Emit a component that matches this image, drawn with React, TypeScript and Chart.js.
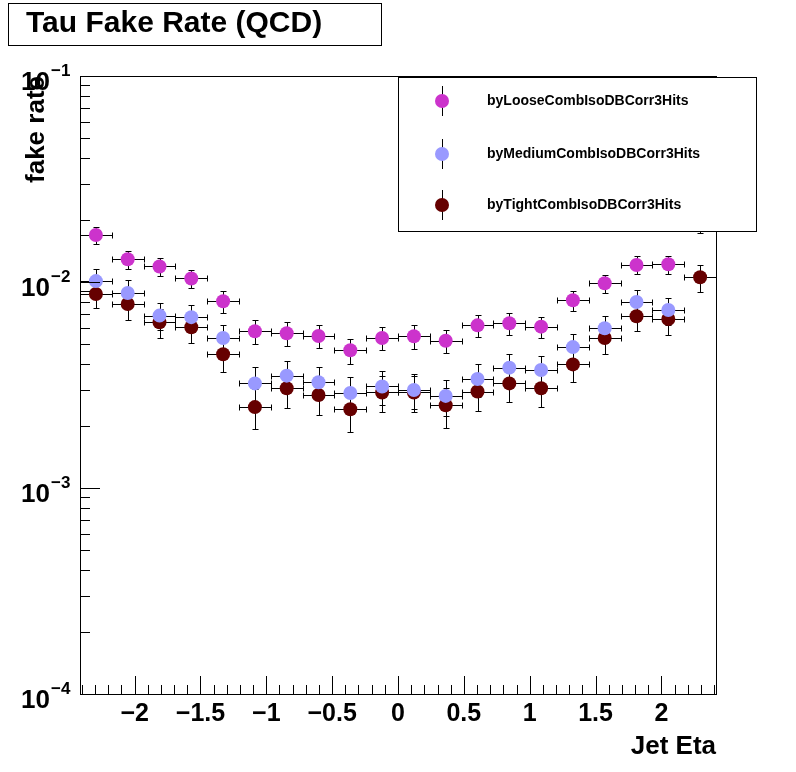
import { Chart, registerables } from "chart.js";
import { useEffect, useRef } from "react";

Chart.register(...registerables);

// eta bins: 20 bins of equal width
const binLow = -2.415;
const binWidth = 0.2415;
const binCenters = Array.from({ length: 20 }, (_, i) => binLow + binWidth * (i + 0.5));

const seriesNames = ["byLooseCombIsoDBCorr3Hits", "byMediumCombIsoDBCorr3Hits", "byTightCombIsoDBCorr3Hits"];
const seriesColors = ["#cc33cc", "#9999ff", "#660000"];

const looseRate = [0.0169, 0.0129, 0.0119, 0.0104, 0.00806, 0.00577, 0.00564, 0.00547, 0.00466, 0.00535, 0.00545, 0.00519, 0.00616, 0.00631, 0.00607, 0.00815, 0.00986, 0.0121, 0.0122, 0.022];
const mediumRate = [0.0101, 0.00885, 0.00687, 0.00675, 0.00535, 0.00322, 0.00351, 0.00326, 0.00289, 0.00311, 0.00299, 0.0028, 0.00338, 0.00384, 0.00374, 0.00483, 0.00596, 0.008, 0.00731, 0.02];
const tightRate = [0.00875, 0.00782, 0.00637, 0.00603, 0.00446, 0.00247, 0.00305, 0.00283, 0.00241, 0.00291, 0.00291, 0.00252, 0.00294, 0.00322, 0.00305, 0.00398, 0.00535, 0.00682, 0.00661, 0.01054];

// relative errors
const looseErr = [0.1, 0.1, 0.1, 0.1, 0.12, 0.13, 0.13, 0.13, 0.14, 0.13, 0.13, 0.13, 0.12, 0.12, 0.12, 0.11, 0.1, 0.1, 0.1, 0.1];
const mediumErr = [0.15, 0.15, 0.15, 0.15, 0.16, 0.2, 0.18, 0.18, 0.2, 0.19, 0.19, 0.2, 0.18, 0.17, 0.17, 0.16, 0.15, 0.14, 0.15, 0.14];
const tightErr = [0.15, 0.16, 0.16, 0.16, 0.18, 0.22, 0.2, 0.2, 0.22, 0.2, 0.2, 0.22, 0.2, 0.19, 0.19, 0.18, 0.16, 0.15, 0.16, 0.15];

const xTicks = [-2, -1.5, -1, -0.5, 0, 0.5, 1, 1.5, 2];
const yDecades = [-4, -3, -2, -1];

const FONT = '"Liberation Sans", Arial, sans-serif';

const rootPlugin = {
  id: "rootStyle",
  afterDatasetsDraw(chart: any) {
    const ctx = chart.ctx as CanvasRenderingContext2D;
    const xs = chart.scales.x;
    const ys = chart.scales.y;
    const { left, right, top, bottom } = chart.chartArea;
    ctx.save();
    ctx.strokeStyle = "#000";
    ctx.fillStyle = "#000";
    ctx.lineWidth = 1;

    // frame
    ctx.strokeRect(left + 0.5, top + 0.5, right - left, bottom - top);

    // x ticks
    for (let v = -2.4; v <= 2.41; v += 0.1) {
      const px = Math.round(xs.getPixelForValue(v)) + 0.5;
      const major = Math.abs(v * 2 - Math.round(v * 2)) < 1e-6;
      ctx.beginPath();
      ctx.moveTo(px, bottom);
      ctx.lineTo(px, bottom - (major ? 18 : 9));
      ctx.stroke();
    }
    ctx.font = `bold 25px ${FONT}`;
    ctx.textAlign = "center";
    ctx.textBaseline = "top";
    xTicks.forEach((t) => {
      const label = t < 0 ? "\u2212" + Math.abs(t) : String(t);
      ctx.fillText(label, xs.getPixelForValue(t), bottom + 8);
    });

    // y ticks
    yDecades.forEach((d) => {
      const py = Math.round(ys.getPixelForValue(Math.pow(10, d))) + 0.5;
      ctx.beginPath();
      ctx.moveTo(left, py);
      ctx.lineTo(left + 20, py);
      ctx.stroke();
      if (d < -1) {
        for (let m = 2; m <= 9; m++) {
          const pm = Math.round(ys.getPixelForValue(m * Math.pow(10, d))) + 0.5;
          ctx.beginPath();
          ctx.moveTo(left, pm);
          ctx.lineTo(left + 10, pm);
          ctx.stroke();
        }
      }
      ctx.textAlign = "left";
      ctx.textBaseline = "middle";
      ctx.font = `bold 26px ${FONT}`;
      ctx.fillText("10", 21, py + 6);
      ctx.font = `bold 17px ${FONT}`;
      ctx.fillText("\u2212" + Math.abs(d), 51, py - 5);
    });

    // axis titles
    ctx.font = `bold 26px ${FONT}`;
    ctx.textAlign = "right";
    ctx.textBaseline = "alphabetic";
    ctx.fillText("Jet Eta", right, 754);
    ctx.save();
    ctx.translate(44, top);
    ctx.rotate(-Math.PI / 2);
    ctx.textAlign = "right";
    ctx.fillText("fake rate", 0, 0);
    ctx.restore();

    // title box
    ctx.fillStyle = "#fff";
    ctx.fillRect(8, 3, 373, 42);
    ctx.strokeRect(8.5, 3.5, 373, 42);
    ctx.fillStyle = "#000";
    ctx.font = `bold 30px ${FONT}`;
    ctx.textAlign = "left";
    ctx.textBaseline = "middle";
    ctx.fillText("Tau Fake Rate (QCD)", 26, 24);

    // legend box
    ctx.fillStyle = "#fff";
    ctx.fillRect(398, 77, 358, 154);
    ctx.strokeRect(398.5, 77.5, 358, 154);
    const rowsY = [101, 154, 205];
    seriesNames.forEach((name, i) => {
      ctx.strokeStyle = "#000";
      ctx.beginPath();
      ctx.moveTo(442.5, rowsY[i] - 15);
      ctx.lineTo(442.5, rowsY[i] + 15);
      ctx.stroke();
      ctx.fillStyle = seriesColors[i];
      ctx.beginPath();
      ctx.arc(442, rowsY[i], 7, 0, Math.PI * 2);
      ctx.fill();
      ctx.fillStyle = "#000";
      ctx.font = `bold 14px ${FONT}`;
      ctx.fillText(name, 487, rowsY[i]);
    });
    ctx.restore();
  },
};

const errorBarPlugin = {
  id: "errorBars",
  beforeDatasetsDraw(chart: any) {
    const ctx = chart.ctx as CanvasRenderingContext2D;
    const xs = chart.scales.x;
    const ys = chart.scales.y;
    const errs = [looseErr, mediumErr, tightErr];
    ctx.save();
    ctx.strokeStyle = "#000";
    ctx.lineWidth = 1;
    chart.data.datasets.forEach((ds: any, di: number) => {
      ds.data.forEach((p: any, i: number) => {
        const cx = Math.round(xs.getPixelForValue(p.x)) + 0.5;
        const cy = Math.round(ys.getPixelForValue(p.y)) + 0.5;
        const x0 = Math.round(xs.getPixelForValue(p.x - binWidth / 2)) + 0.5;
        const x1 = Math.round(xs.getPixelForValue(p.x + binWidth / 2)) + 0.5;
        const yHi = Math.round(ys.getPixelForValue(p.y * (1 + errs[di][i]))) + 0.5;
        const yLo = Math.round(ys.getPixelForValue(p.y * (1 - errs[di][i]))) + 0.5;
        ctx.beginPath();
        ctx.moveTo(x0, cy); ctx.lineTo(x1, cy);
        ctx.moveTo(x0, cy - 3); ctx.lineTo(x0, cy + 3);
        ctx.moveTo(x1, cy - 3); ctx.lineTo(x1, cy + 3);
        ctx.moveTo(cx, yHi); ctx.lineTo(cx, yLo);
        ctx.moveTo(cx - 3, yHi); ctx.lineTo(cx + 3, yHi);
        ctx.moveTo(cx - 3, yLo); ctx.lineTo(cx + 3, yLo);
        ctx.stroke();
      });
    });
    ctx.restore();
  },
};

export default function App() {
  const chartRef = useRef<HTMLCanvasElement>(null);
  const chartInstanceRef = useRef<Chart | null>(null);

  useEffect(() => {
    document.body.style.margin = "0";
    if (chartRef.current) {
      if (chartInstanceRef.current) chartInstanceRef.current.destroy();
      const rates = [looseRate, mediumRate, tightRate];
      chartInstanceRef.current = new Chart(chartRef.current, {
        type: "scatter",
        data: {
          datasets: rates.map((r, i) => ({
            label: seriesNames[i],
            data: r.map((y, j) => ({ x: binCenters[j], y })),
            backgroundColor: seriesColors[i],
            borderWidth: 0,
            pointRadius: 7,
          })),
        },
        options: {
          animation: false,
          responsive: false,
          layout: { padding: { left: 80, right: 80, top: 76, bottom: 78 } },
          plugins: { legend: { display: false }, tooltip: { enabled: false } },
          scales: {
            x: { type: "linear", min: -2.415, max: 2.415, display: false },
            y: { type: "logarithmic", min: 1e-4, max: 1e-1, display: false },
          },
        },
        plugins: [errorBarPlugin, rootPlugin],
      });
    }
    return () => {
      if (chartInstanceRef.current) chartInstanceRef.current.destroy();
    };
  }, []);

  return <canvas ref={chartRef} width={796} height={772} style={{ display: "block" }}></canvas>;
}
